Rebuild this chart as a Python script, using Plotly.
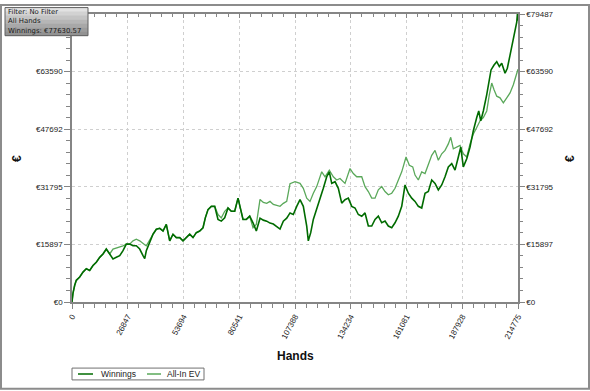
import plotly.graph_objects as go

# ---------------- data ----------------
hands_common = [0, 482, 1300, 2071, 3708, 5298, 6887, 8524, 10114, 11703, 13340, 14930, 16519, 18156,
                19746, 21335, 22972, 24562, 26151, 27788, 29378, 30967, 32604, 34194, 35012, 35783,
                37420, 39010, 40599, 42236, 43826, 45415, 47052, 48642, 50231, 51868, 53458, 55047,
                56684, 58274, 59863, 61500, 63090, 64197, 65498, 67087, 68724, 70314, 71903, 73540,
                75130, 76719, 78356, 79946, 81246, 82354, 83943, 85580, 87170, 88759, 90541, 92130,
                93768, 95357, 96946, 98584, 100173, 101762, 103400, 104989]
win_common = [0, 2450, 4627, 5988, 6887, 8248, 9173, 8710, 10071, 10970, 12331, 13256, 14617, 13256,
              11895, 12331, 12793, 14154, 15978, 15978, 15515, 15515, 14617, 12793, 11977, 14154,
              16414, 18700, 20061, 20333, 19598, 21422, 16876, 18700, 17775, 17775, 16876, 17775,
              18700, 17775, 19136, 19598, 20497, 23219, 25505, 26403, 26403, 22783, 22320, 23219,
              25941, 25042, 25042, 28663, 25042, 22783, 22783, 23681, 21858, 19598, 23137, 22593,
              22320, 21776, 21504, 20687, 20143, 22320, 23137, 24580]
ev_common = [0, 2450, 4627, 5988, 6887, 8248, 9173, 8710, 10071, 10970, 12331, 13256, 14617, 13256,
             14617, 14889, 15053, 15515, 15978, 15978, 16876, 17339, 16876, 15978, 15788, 15515,
             17339, 18700, 20061, 20333, 19598, 21422, 16876, 18700, 17775, 17775, 16876, 17775,
             18700, 17775, 19136, 19598, 20497, 23219, 25505, 26403, 26403, 24144, 23219, 25042,
             25941, 25042, 25042, 28663, 25042, 22783, 22783, 23681, 20497, 21422, 28309, 27492,
             27220, 27764, 26948, 26676, 26403, 27220, 27764, 32664]

hands_win_late = [106576, 108214, 109805, 111394, 113032, 113803, 114958, 116210, 117848, 119437,
                  121026, 122664, 123916, 125072, 126661, 128250, 129888, 131477, 133066, 134704,
                  136293, 137882, 139520, 141109, 142698, 144336, 145925, 147514, 149152, 150741,
                  152330, 153968, 155557, 157146, 158784, 160373, 161962, 163600, 165189, 166778,
                  168416, 170005, 171594, 173232, 174821, 176410, 178048, 179637, 181226, 182864,
                  184453, 186042, 187198, 188450, 190088, 191677, 193266, 194904, 195867, 196830,
                  198082, 199720, 200972, 201791, 203235, 204536, 205788, 206944, 208533, 209640,
                  210941, 212241, 213349, 214168, 214500, 214775]
win_late = [24144, 26403, 28227, 26403, 20959, 16876, 19136, 22783, 25505, 28663,
            31385, 34569, 35930, 32746, 33208, 31385, 27302, 28227, 28663, 26403,
            25941, 24144, 23681, 24580, 20959, 20959, 22783, 23681, 21858, 22320,
            20959, 20497, 21858, 23681, 26403, 32310, 30024, 28663, 27764, 26403,
            25941, 30024, 30486, 33671, 32746, 30949, 32310, 34569, 37291, 38190,
            36393, 40013, 42735, 37291, 39551, 42735, 47282, 50901, 52725, 50003,
            52725, 57244, 60891, 64048, 65410, 66335, 64974, 65872, 63150, 64511,
            68132, 71779, 74038, 77223, 79487, 77630]

hands_ev_late = [107397, 109805, 111394, 113032, 114621, 116210, 117848, 120256, 121845, 123916,
                 125842, 127480, 129069, 131477, 133885, 135474, 137112, 139520, 141109, 142698,
                 144336, 145925, 147514, 149152, 150741, 152330, 153968, 155557, 157146, 158784,
                 160854, 162444, 164081, 165189, 166778, 168416, 170005, 171594, 173232, 174821,
                 176410, 178048, 179637, 181226, 182382, 183634, 185272, 186861, 188450, 190088,
                 191677, 193266, 194904, 196493, 198082, 199720, 200972, 202128, 203235, 204536,
                 206125, 207714, 209351, 210941, 212530, 213830, 214775]
ev_late = [33208, 32746, 31385, 28663, 27764, 30024, 31847, 35930, 34569, 36393,
           34569, 33671, 34107, 32746, 36829, 35468, 34569, 34569, 31847, 30486,
           28663, 28663, 30949, 31847, 30486, 29588, 30024, 31385, 33671, 35930,
           40013, 37754, 37291, 35032, 33671, 35930, 35468, 38190, 40476, 41837,
           39115, 40912, 41837, 43634, 45457, 42273, 42735, 43198, 40912, 40013,
           43634, 46356, 48179, 50003, 50901, 52725, 57244, 60428, 58605, 56808,
           56345, 54984, 56345, 57706, 59966, 62606, 64239]

x_ticks = [0, 26847, 53694, 80541, 107388, 134234, 161081, 187928, 214775]
x_tick_labels = ["0", "26847", "53694", "80541", "107388", "134234", "161081", "187928", "214775"]
y_ticks = [0, 15897, 31795, 47692, 63590, 79487]
y_tick_labels = ["€0", "€15897", "€31795", "€47692", "€63590", "€79487"]
# on the left the top label sits behind the info box in the reference
y_tick_labels_left = y_tick_labels[:-1] + [""]

series_names = ["Winnings", "All-In EV"]
info_lines = ["Filter: No Filter", "All Hands", "Winnings: €77630.57"]

# ---------------- figure ----------------
hands_win = hands_common + hands_win_late
winnings = win_common + win_late
hands_ev = hands_common + hands_ev_late
ev = ev_common + ev_late

C_WIN = "#006b00"
C_EV = "#5aa85a"
AX = "#858585"
FONT = "Liberation Sans, Arial, sans-serif"

fig = go.Figure()
fig.add_trace(go.Scatter(x=hands_ev, y=ev, mode="lines", name=series_names[1],
                         line=dict(color=C_EV, width=1.3), showlegend=False))
fig.add_trace(go.Scatter(x=hands_win, y=winnings, mode="lines", name=series_names[0],
                         line=dict(color=C_WIN, width=1.6), showlegend=False))
# carrier trace for the mirrored (top / right) axes
fig.add_trace(go.Scatter(x=[0], y=[0], xaxis="x2", yaxis="y2", mode="lines",
                         line=dict(width=0), hoverinfo="skip", showlegend=False))

xr = [0, 214775]
yr = [0, 79487]
tickfont = dict(family=FONT, size=8, color="#222")
GRID = "#cfcfcf"

fig.update_layout(
    width=590, height=391,
    margin=dict(l=72, r=72, t=10, b=89),
    paper_bgcolor="white", plot_bgcolor="white",
    xaxis=dict(range=xr, tickmode="array", tickvals=x_ticks, ticktext=x_tick_labels,
               tickangle=-62, tickfont=tickfont, ticks="outside", ticklen=5, tickcolor=AX,
               showline=True, linecolor=AX, linewidth=1.5, zeroline=False,
               showgrid=True, gridcolor=GRID, griddash="dot", gridwidth=1,
               minor=dict(tickmode="linear", tick0=0, dtick=214775 / 40, ticks="outside",
                          ticklen=4, tickcolor=AX, showgrid=False)),
    xaxis2=dict(range=xr, overlaying="x", side="top", tickmode="array", tickvals=x_ticks,
                showticklabels=False, ticks="inside", ticklen=4, tickcolor=AX,
                showline=True, linecolor=AX, linewidth=1.5, showgrid=False, zeroline=False,
                minor=dict(tickmode="linear", tick0=0, dtick=214775 / 40, ticks="inside",
                           ticklen=3, tickcolor=AX, showgrid=False)),
    yaxis=dict(range=yr, tickmode="array", tickvals=y_ticks, ticktext=y_tick_labels_left,
               tickfont=tickfont, ticks="outside", ticklen=6, tickcolor=AX,
               showline=True, linecolor=AX, linewidth=1.5, zeroline=False,
               showgrid=True, gridcolor=GRID, griddash="dot", gridwidth=1,
               minor=dict(tickmode="linear", tick0=0, dtick=79487 / 25, ticks="outside",
                          ticklen=4, tickcolor=AX, showgrid=False)),
    yaxis2=dict(range=yr, overlaying="y", side="right", tickmode="array", tickvals=y_ticks,
                ticktext=y_tick_labels, tickfont=tickfont, ticks="outside", ticklen=5,
                tickcolor=AX, showline=True, linecolor=AX, linewidth=1.5, showgrid=False,
                zeroline=False,
                minor=dict(tickmode="linear", tick0=0, dtick=79487 / 25, ticks="outside",
                           ticklen=3, tickcolor=AX, showgrid=False)),
    showlegend=False,
)

W_PLOT, H_PLOT, L, T = 446.0, 292.0, 72.0, 10.0


def px(xp):
    return (xp - L) / W_PLOT


def py(yp):
    return (T + H_PLOT - yp) / H_PLOT


shapes = []
# outer frame
shapes.append(dict(type="rect", xref="paper", yref="paper", x0=px(1), x1=px(589), y0=py(390), y1=py(1),
                   line=dict(color="#8c8c8c", width=2), fillcolor="rgba(0,0,0,0)", layer="below"))
# info box with a vertical gradient
bands = ["#e2e2e2", "#d2d2d2", "#c4c4c4", "#b6b6b6", "#a8a8a8", "#9c9c9c", "#929292"]
top, bot = 3.5, 32.0
step = (bot - top) / len(bands)
for i, c in enumerate(bands):
    shapes.append(dict(type="rect", xref="paper", yref="paper", x0=px(5), x1=px(88),
                       y0=py(top + (i + 1) * step + 0.3), y1=py(top + i * step),
                       line=dict(width=0), fillcolor=c, layer="above"))
shapes.append(dict(type="rect", xref="paper", yref="paper", x0=px(5), x1=px(88), y0=py(bot), y1=py(top),
                   line=dict(color="#606060", width=1), fillcolor="rgba(0,0,0,0)", layer="above"))
# legend box
shapes.append(dict(type="rect", xref="paper", yref="paper", x0=px(72), x1=px(204), y0=py(381), y1=py(369),
                   line=dict(color="#707070", width=1), fillcolor="white"))
shapes.append(dict(type="line", xref="paper", yref="paper", x0=px(78), x1=px(93), y0=py(375), y1=py(375),
                   line=dict(color=C_WIN, width=1.5)))
shapes.append(dict(type="line", xref="paper", yref="paper", x0=px(147), x1=px(161), y0=py(375), y1=py(375),
                   line=dict(color=C_EV, width=1.5)))
fig.update_layout(shapes=shapes)

ann = []
for i, t in enumerate(info_lines):
    ann.append(dict(text=t, xref="paper", yref="paper", x=px(6.5), y=py(8.0 + i * 9.5),
                    xanchor="left", yanchor="middle", showarrow=False, borderpad=0,
                    font=dict(family="DejaVu Sans, sans-serif", size=6.9, color="#1a1a1a")))
ann.append(dict(text=series_names[0], xref="paper", yref="paper", x=px(98.5), y=py(375),
                xanchor="left", yanchor="middle", showarrow=False,
                font=dict(family=FONT, size=8.5, color="#222")))
ann.append(dict(text=series_names[1], xref="paper", yref="paper", x=px(165), y=py(375),
                xanchor="left", yanchor="middle", showarrow=False,
                font=dict(family=FONT, size=8.5, color="#222")))
ann.append(dict(text="<b>Hands</b>", xref="paper", yref="paper", x=0.5, y=py(357),
                xanchor="center", yanchor="middle", showarrow=False,
                font=dict(family=FONT, size=12, color="#111")))
for xx in (17, 570):
    ann.append(dict(text="<b>€</b>", xref="paper", yref="paper", x=px(xx), y=py(157),
                    xanchor="center", yanchor="middle", showarrow=False, textangle=-90,
                    font=dict(family=FONT, size=12, color="#111")))
fig.update_layout(annotations=ann)

fig.write_html("out.html", config={"displayModeBar": False},
               post_script="document.body.style.margin='0';document.body.style.padding='0';"
                           "document.documentElement.style.overflow='hidden';")
